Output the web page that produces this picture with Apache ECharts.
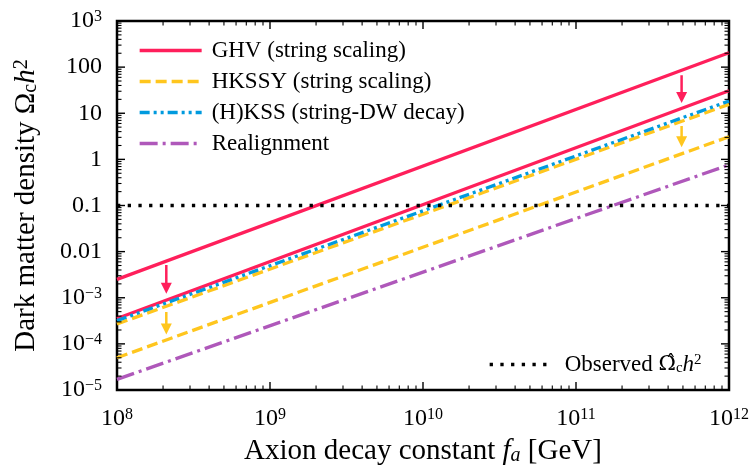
<!DOCTYPE html>
<html>
<head>
  <meta charset="utf-8">
  <title>Axion dark matter density</title>
  <script src="https://cdn.jsdelivr.net/npm/echarts@6/dist/echarts.min.js"></script>
  <style>
    html, body { margin: 0; padding: 0; background: #fff; }
    #main { width: 755px; height: 466px; }
  </style>
</head>
<body>
  <div id="main"></div>
  <script type="text/javascript">
    // values (line endpoints at fa = 1e8 and 1e12)
    var faRange = [1e8, 1e12];
    var ghvUpper = [2.5e-3, 205];
    var ghvLower = [3.55e-4, 30.8];
    var hkss = [3.2e-4, 18.4];
    var hkssyUpper = [2.7e-4, 15.6];
    var hkssyLower = [5.0e-5, 3.1];
    var realignment = [1.7e-5, 0.76];
    var observed = [0.1, 0.1];

    // arrows: x position, [start, end] in y
    var arrowFa = [2.1e8, 4.9e11];
    var ghvArrows = [[5.1e-3, 1.6e-3], [67, 22]];
    var hkssyArrows = [[4.9e-4, 2.1e-4], [5.3, 2.4]];

    // ticks
    var xMajor = [1e8, 1e9, 1e10, 1e11, 1e12];
    var xTickText = ['10{sup|8}', '10{sup|9}', '10{sup|10}', '10{sup|11}', '10{sup|12}'];
    var yMajor = [1e-5, 1e-4, 1e-3, 1e-2, 1e-1, 1, 10, 100, 1e3];
    var yTickText = ['10{sup|−5}', '10{sup|−4}', '10{sup|−3}', '0.01', '0.1', '1', '10', '100', '10{sup|3}'];

    var names = ['GHV (string scaling)', 'HKSSY (string scaling)', '(H)KSS (string-DW decay)', 'Realignment', 'Observed'];
    var red = '#ff1f5b', yellow = '#ffc61e', blue = '#009ade', purple = '#af58ba';
    var font = '"Liberation Serif", "DejaVu Serif", serif';

    var xMin = xMajor[0], xMax = xMajor[xMajor.length - 1];
    var yMin = yMajor[0], yMax = yMajor[yMajor.length - 1];

    // tick list: [value, length]; decades long, 2..9 short
    function tickList(major) {
      var out = [];
      for (var i = 0; i < major.length; i++) {
        out.push([major[i], 8]);
        if (i < major.length - 1) {
          for (var k = 2; k <= 9; k++) out.push([major[i] * k, 4.5]);
        }
      }
      return out;
    }
    function pairs(ys) {
      return [[faRange[0], ys[0]], [faRange[1], ys[1]]];
    }

    var supRich = {
      sup: { fontSize: 16, fontFamily: font, color: '#000', verticalAlign: 'top', lineHeight: 16 }
    };
    var titleRich = {
      n: { fontFamily: font, fontSize: 29, color: '#000' },
      i: { fontFamily: font, fontSize: 29, fontStyle: 'italic', color: '#000' },
      sub: { fontFamily: font, fontSize: 20, color: '#000', verticalAlign: 'bottom' },
      isub: { fontFamily: font, fontSize: 20, fontStyle: 'italic', color: '#000', verticalAlign: 'bottom' },
      sup: { fontFamily: font, fontSize: 20, color: '#000', verticalAlign: 'top' }
    };

    var xAxis = {
      type: 'log',
      logBase: 10,
      min: xMin,
      max: xMax,
      splitLine: { show: false },
      axisLine: { show: false },
      axisTick: { show: false },
      axisLabel: {
        show: true, margin: 17, customValues: xMajor,
        fontFamily: font, fontSize: 24, color: '#000',
        formatter: function (v) { return xTickText[Math.round(Math.log10(v)) - 8]; },
        rich: supRich
      },
      name: '{n|Axion decay constant }{i|f}{isub|a}{n| [GeV]}',
      nameLocation: 'middle',
      nameGap: 47,
      nameTextStyle: { rich: titleRich }
    };
    var yAxis = {
      type: 'log',
      logBase: 10,
      min: yMin,
      max: yMax,
      splitLine: { show: false },
      axisLine: { show: false },
      axisTick: { show: false },
      axisLabel: {
        show: true, margin: 15, customValues: yMajor,
        fontFamily: font, fontSize: 24, color: '#000',
        formatter: function (v) { return yTickText[Math.round(Math.log10(v)) + 5]; },
        rich: supRich
      },
      name: '{n|Dark matter density Ω}{sub|c}{i|h}{sup|2}',
      nameLocation: 'middle',
      nameRotate: 90,
      nameGap: 76,
      nameTextStyle: { rich: titleRich }
    };

    // inside tick marks on one side of the frame: thin rect symbols placed
    // on the frame through the log axes, shifted inward by half their length
    function tickSeries(side, list) {
      var data = list.map(function (t) {
        var v = t[0], len = t[1], w = len > 6 ? 1.4 : 1.1;
        if (side === 'bottom') return { value: [v, yMin], symbolSize: [w, len], symbolOffset: [0, -len / 2] };
        if (side === 'top') return { value: [v, yMax], symbolSize: [w, len], symbolOffset: [0, len / 2] };
        if (side === 'left') return { value: [xMin, v], symbolSize: [len, w], symbolOffset: [len / 2, 0] };
        return { value: [xMax, v], symbolSize: [len, w], symbolOffset: [-len / 2, 0] };
      });
      return {
        name: 'ticks',
        type: 'line',
        data: data,
        symbol: 'rect',
        showSymbol: true,
        clip: false,
        z: 3,
        lineStyle: { width: 0, opacity: 0 },
        itemStyle: { color: '#000', borderWidth: 0 },
        emphasis: { disabled: true },
        silent: true
      };
    }

    function lineSeries(name, data, color, type) {
      return {
        name: name,
        type: 'line',
        data: data,
        symbol: 'none',
        showSymbol: false,
        lineStyle: { color: color, width: 3.3, type: type },
        itemStyle: { color: color },
        emphasis: { disabled: true },
        silent: true
      };
    }
    // an arrow: solid shaft with a filled triangle at its lower end
    function arrowSeries(color, x, ys) {
      return {
        name: 'arrow',
        type: 'line',
        data: [[x, ys[0]], [x, ys[1]]],
        showSymbol: true,
        symbol: function (value, params) { return params.dataIndex === 1 ? 'triangle' : 'none'; },
        symbolSize: 11,
        symbolRotate: 180,
        lineStyle: { color: color, width: 2.5, type: 'solid' },
        itemStyle: { color: color, borderWidth: 0 },
        emphasis: { disabled: true },
        silent: true
      };
    }

    var series = [
      lineSeries(names[0], pairs(ghvUpper), red, 'solid'),
      lineSeries(names[0], pairs(ghvLower), red, 'solid'),
      lineSeries(names[1], pairs(hkssyUpper), yellow, [11, 5]),
      lineSeries(names[1], pairs(hkssyLower), yellow, [11, 5]),
      lineSeries(names[2], pairs(hkss), blue, [10, 4, 3, 4, 3, 4]),
      lineSeries(names[3], pairs(realignment), purple, [18, 5, 3, 5]),
      lineSeries(names[4], pairs(observed), '#000', [3.3, 7.4])
    ];
    arrowFa.forEach(function (x, i) {
      series.push(arrowSeries(red, x, ghvArrows[i]));
      series.push(arrowSeries(yellow, x, hkssyArrows[i]));
    });
    ['bottom', 'top'].forEach(function (s) { series.push(tickSeries(s, tickList(xMajor))); });
    ['left', 'right'].forEach(function (s) { series.push(tickSeries(s, tickList(yMajor))); });

    var myChart = echarts.init(document.getElementById('main'), null, { renderer: 'canvas' });
    var option = {
      animation: false,
      grid: { left: 117, right: 26, top: 21, bottom: 76, outerBoundsMode: 'none', show: true, borderColor: '#000', borderWidth: 2.5 },
      xAxis: xAxis,
      yAxis: yAxis,
      legend: [{
        data: names.slice(0, 4),
        orient: 'vertical',
        left: 133, top: 34,
        itemWidth: 62, itemHeight: 20, itemGap: 8,
        selectedMode: false,
        itemStyle: { opacity: 0 },
        lineStyle: { width: 3.3 },
        textStyle: { fontFamily: font, fontSize: 23, color: '#000', padding: [0, 0, 0, 5] }
      }, {
        data: [names[4]],
        left: 483, top: 348,
        itemWidth: 58, itemHeight: 20,
        selectedMode: false,
        itemStyle: { opacity: 0 },
        lineStyle: { width: 3.3 },
        formatter: function () { return '{n|Observed }{o|Ω̂}{sub|c}{i|h}{sup|2}'; },
        textStyle: {
          fontFamily: font, fontSize: 23, color: '#000', padding: [0, 0, 0, 12],
          rich: {
            n: { fontFamily: font, fontSize: 23, color: '#000' },
            o: { fontFamily: '"DejaVu Serif", serif', fontSize: 21, color: '#000' },
            i: { fontFamily: font, fontSize: 23, fontStyle: 'italic', color: '#000' },
            sub: { fontFamily: font, fontSize: 15, color: '#000', verticalAlign: 'bottom' },
            sup: { fontFamily: font, fontSize: 15, color: '#000', verticalAlign: 'top' }
          }
        }
      }],
      series: series
    };
    myChart.setOption(option);
  </script>
</body>
</html>
